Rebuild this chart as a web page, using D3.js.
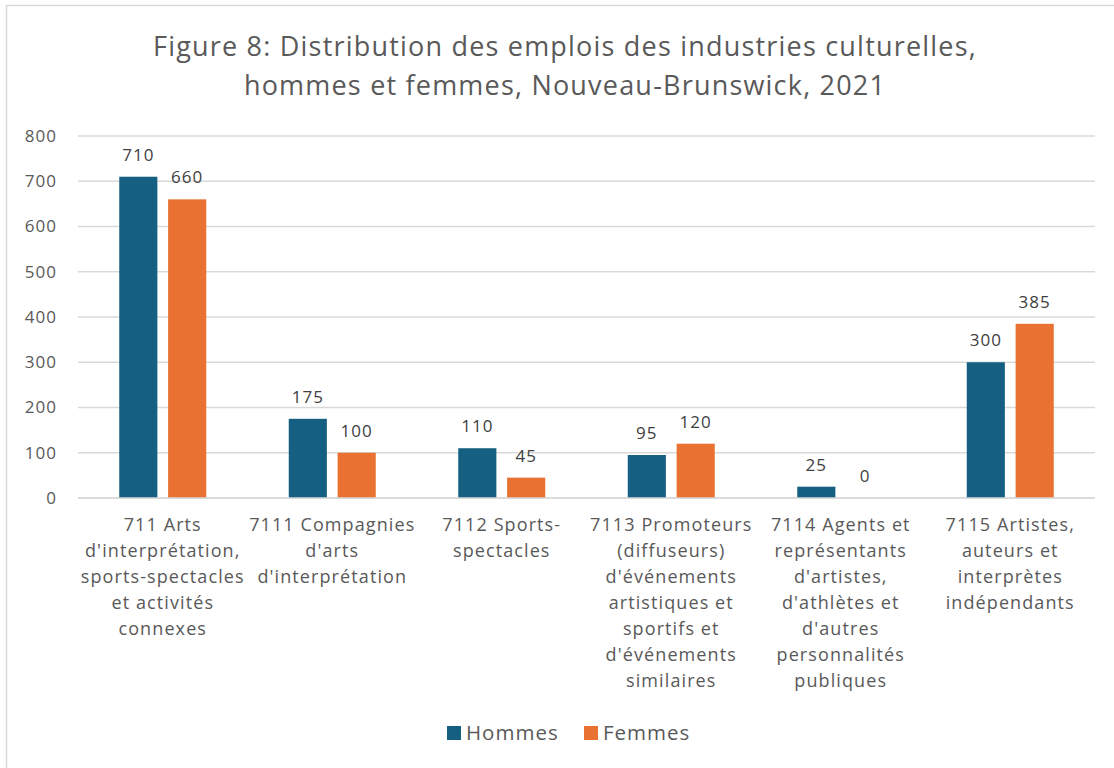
<!DOCTYPE html>
<html lang="fr">
<head>
<meta charset="utf-8">
<title>Figure 8</title>
<script src="https://d3js.org/d3.v7.min.js"></script>
<style>
  body { margin: 0; background: #fff; }
  text { font-family: "Open Sans", sans-serif; fill: #595959; }
  .grid line { stroke: #d9d9d9; stroke-width: 1.3px; }
  .lbl { fill: #404040; }
</style>
</head>
<body>
<svg width="1114" height="768"></svg>
<script>
// data
var categories = ["711", "7111", "7112", "7113", "7114", "7115"];
var categoryLines = [
  ["711 Arts", "d'interprétation,", "sports-spectacles", "et activités", "connexes"],
  ["7111 Compagnies", "d'arts", "d'interprétation"],
  ["7112 Sports-", "spectacles"],
  ["7113 Promoteurs", "(diffuseurs)", "d'événements", "artistiques et", "sportifs et", "d'événements", "similaires"],
  ["7114 Agents et", "représentants", "d'artistes,", "d'athlètes et", "d'autres", "personnalités", "publiques"],
  ["7115 Artistes,", "auteurs et", "interprètes", "indépendants"]
];
var seriesNames = ["Hommes", "Femmes"];
var hommes = [710, 175, 110, 95, 25, 300];
var femmes = [660, 100, 45, 120, 0, 385];
var yTicks = [0, 100, 200, 300, 400, 500, 600, 700, 800];
var titleLines = ["Figure 8: Distribution des emplois des industries culturelles,",
                  "hommes et femmes, Nouveau-Brunswick, 2021"];
var colors = {Hommes: "#156082", Femmes: "#e97132"};

var svg = d3.select("svg");

// chart frame
svg.append("rect")
  .attr("x", 6.5).attr("y", 5.5)
  .attr("width", 1130).attr("height", 800)
  .attr("fill", "none").attr("stroke", "#d9d9d9").attr("stroke-width", 1.5);

// title
svg.append("g").selectAll("text")
  .data(titleLines)
  .join("text")
  .attr("x", 565)
  .attr("y", function(d, i) { return 56 + i * 39; })
  .attr("text-anchor", "middle")
  .style("font-size", "27px")
  .style("letter-spacing", "1.2px")
  .text(function(d) { return d; });

var plotLeft = 78, plotRight = 1095, plotTop = 136, plotBottom = 498;

var x0 = d3.scaleBand().domain(categories).range([plotLeft, plotRight]);
var x1 = d3.scaleBand().domain(seriesNames).range([0, 87]).paddingInner(0.22);
var y = d3.scaleLinear().domain([0, 800]).range([plotBottom, plotTop]);

// gridlines
svg.append("g").attr("class", "grid")
  .selectAll("line")
  .data(yTicks)
  .join("line")
  .attr("x1", plotLeft).attr("x2", plotRight)
  .attr("y1", function(d) { return y(d); })
  .attr("y2", function(d) { return y(d); });

// y axis labels
var yAxis = svg.append("g")
  .attr("transform", "translate(" + (plotLeft - 8) + ",0)")
  .call(d3.axisLeft(y).tickValues(yTicks).tickSize(0).tickPadding(13));
yAxis.select(".domain").remove();
yAxis.selectAll("text")
  .style("font-size", "17px")
  .style("letter-spacing", "1px")
  .style("font-family", "'Open Sans', sans-serif")
  .attr("fill", "#595959");

var rows = categories.map(function(c, i) {
  return {cat: c, values: [
    {s: "Hommes", v: hommes[i]},
    {s: "Femmes", v: femmes[i]}
  ]};
});

var groups = svg.append("g").selectAll("g")
  .data(rows)
  .join("g")
  .attr("transform", function(d) {
    return "translate(" + (x0(d.cat) + x0.bandwidth() / 2 - 43.5) + ",0)";
  });

groups.selectAll("rect")
  .data(function(d) { return d.values; })
  .join("rect")
  .attr("x", function(d) { return x1(d.s); })
  .attr("width", x1.bandwidth())
  .attr("y", function(d) { return y(d.v); })
  .attr("height", function(d) { return y(0) - y(d.v); })
  .attr("fill", function(d) { return colors[d.s]; });

groups.selectAll("text.lbl")
  .data(function(d) { return d.values; })
  .join("text")
  .attr("class", "lbl")
  .attr("x", function(d) { return x1(d.s) + x1.bandwidth() / 2; })
  .attr("y", function(d) { return y(d.v) - 16; })
  .attr("text-anchor", "middle")
  .style("font-size", "17px")
  .style("letter-spacing", "1px")
  .text(function(d) { return d.v; });

// baseline over bars
svg.append("line")
  .attr("x1", plotLeft).attr("x2", plotRight)
  .attr("y1", y(0)).attr("y2", y(0))
  .attr("stroke", "#d9d9d9").attr("stroke-width", 1.3);

// category labels
svg.append("g").selectAll("text")
  .data(categories)
  .join("text")
  .attr("text-anchor", "middle")
  .attr("x", function(d) { return x0(d) + x0.bandwidth() / 2; })
  .attr("y", 531)
  .style("font-size", "18px")
  .style("letter-spacing", "1.1px")
  .each(function(d, i) {
    d3.select(this).selectAll("tspan")
      .data(categoryLines[i])
      .join("tspan")
      .attr("x", x0(d) + x0.bandwidth() / 2)
      .attr("dy", function(t, j) { return j === 0 ? 0 : 26; })
      .text(function(t) { return t; });
  });

// legend
var legendX = [447, 584];
var legend = svg.append("g").selectAll("g")
  .data(seriesNames)
  .join("g")
  .attr("transform", function(d, i) { return "translate(" + legendX[i] + ",726)"; });
legend.append("rect")
  .attr("width", 14).attr("height", 14)
  .attr("fill", function(d) { return colors[d]; });
legend.append("text")
  .attr("x", 19).attr("y", 14)
  .style("font-size", "20.5px")
  .style("letter-spacing", "1px")
  .text(function(d) { return d; });
</script>
</body>
</html>
